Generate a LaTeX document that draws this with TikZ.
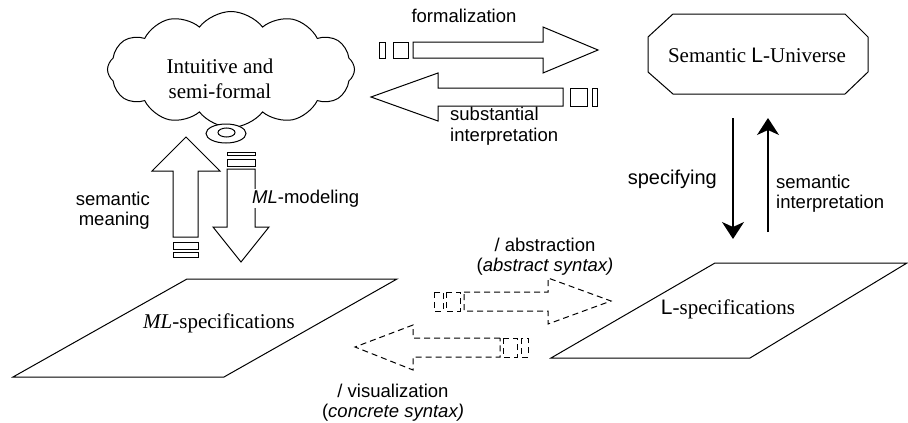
\documentclass[tikz,border=0pt]{standalone}
\usepackage{fontspec}
\setmainfont{Liberation Serif}
\newfontfamily\labelfont{Liberation Sans}
\usetikzlibrary{positioning,shapes.symbols,shapes.geometric,arrows.meta}

\tikzset{
  serif/.style={font=\fontsize{21}{25}\selectfont, inner sep=0pt},
  sanslabel/.style={font=\labelfont\fontsize{18.5}{20.5}\selectfont, inner sep=0pt},
  blockarrow/.style={draw, line width=1pt, fill=white, line join=miter},
  dashedarrow/.style={draw, line width=1pt, dash pattern=on 6pt off 4pt},
  planeedge/.style={draw, line width=1pt},
  thinarrow/.style={line width=1.6pt, -{Stealth[length=17pt,width=22pt,inset=5pt]}}
}

\begin{document}
\begin{tikzpicture}[x=1pt,y=-1pt]
      \useasboundingbox (0,0) rectangle (908,423);
      % Draw the cloud and its small bubble
      \node[cloud, draw, line width=1pt, cloud puffs=12, cloud puff arc=105, aspect=2.15,
            minimum width=247pt, minimum height=116pt, inner sep=0pt] (intuit) at (231,69.5) {};
      \node[serif, align=center, anchor=north] (intuit-txt) at (220,58.7) {Intuitive and\\semi-formal};
      \node[ellipse, draw, fill=white, line width=1pt, minimum width=40pt, minimum height=19pt, inner sep=0pt] (bubble) at (226,133.5) {};
      \node[ellipse, draw, line width=1pt, minimum width=17pt, minimum height=9pt, inner sep=0pt] (bubble-in) at (226.5,132.5) {};

      % Draw the semantic universe (octagon round its text)
      \draw[planeedge] (673,14) -- (845,14) -- (868,37) -- (868,72) -- (845,94) -- (673,94) -- (648,72) -- (648,37) -- cycle;
      \node[serif, anchor=base] (univ) at (757,62) {Semantic {\labelfont L}-Universe};

      % Draw the two specification planes
      \draw[planeedge] (13,377) -- (224,377) -- (397,279) -- (187,279) -- cycle;
      \node[serif, anchor=base] (mlspec) at (219,328) {\textit{ML}-specifications};
      \draw[planeedge] (551,358) -- (750,358) -- (907,263) -- (715,263) -- cycle;
      \node[serif, anchor=base] (lspec) at (728,314) {{\labelfont L}-specifications};

      % Formalization and substantial interpretation
      \draw[blockarrow] (379,42) rectangle (385,58);
      \draw[blockarrow] (393,42) rectangle (408,58);
      \draw[blockarrow] (413,42) -- (543,42) -- (543,27) -- (598,50) -- (543,73) -- (543,58) -- (413,58) -- cycle;
      \node[sanslabel, anchor=base] (formal-lbl) at (464,22) {formalization};
      \draw[blockarrow] (563,88) -- (438,88) -- (438,73) -- (371,97) -- (438,121) -- (438,106) -- (563,106) -- cycle;
      \draw[blockarrow] (570,88) rectangle (587,106);
      \draw[blockarrow] (592,88) rectangle (597,106);
      \node[sanslabel, align=left, anchor=north west] (subst-lbl) at (450,107) {substantial\\interpretation};

      % Semantic meaning and ML-modeling
      \draw[blockarrow] (173,237) -- (173,171) -- (152,171) -- (186,137) -- (220,171) -- (198,171) -- (198,237) -- cycle;
      \foreach \ya/\yb in {242/249, 252/257} {
        \draw[blockarrow] (173,\ya) rectangle (198,\yb);
      }
      \node[sanslabel, align=right, anchor=north east] (meaning-lbl) at (150,191.5) {semantic\\meaning};
      \foreach \ya/\yb in {152/155, 159/166} {
        \draw[blockarrow] (227,\ya) rectangle (255,\yb);
      }
      \draw[blockarrow] (227,169) -- (255,169) -- (255,227) -- (269,227) -- (241,262) -- (213,227) -- (227,227) -- cycle;
      \node[sanslabel, fill=white, inner sep=1pt, anchor=base west] (mlmod-lbl) at (251,203) {\textit{ML}-modeling};

      % Specifying and semantic interpretation
      \coordinate (spec-top) at (733,118);
      \coordinate (spec-bot) at (733,239);
      \coordinate (interp-bot) at (768,232);
      \coordinate (interp-top) at (768,118);
      \draw[thinarrow] (spec-top) -- (spec-bot);
      \draw[thinarrow] (interp-bot) -- (interp-top);
      \node[font=\labelfont\fontsize{20}{22}\selectfont, inner sep=0pt, anchor=base east] (spec-lbl) at (717,184) {specifying};
      \node[sanslabel, align=left, anchor=north west] (interp-lbl) at (776,174.5) {semantic\\interpretation};

      % Abstraction and visualization
      \draw[dashedarrow] (434,292) rectangle (443,311);
      \draw[dashedarrow] (446,292) rectangle (460,311);
      \draw[dashedarrow] (464,292) -- (548,292) -- (548,278) -- (611,301) -- (548,324) -- (548,311) -- (464,311) -- cycle;
      \node[sanslabel, align=center, anchor=north] (abstr-lbl) at (545,237.5) {/ abstraction\\(\textit{abstract syntax)}};
      \draw[dashedarrow] (500,338) -- (413,338) -- (413,325) -- (355,347) -- (413,370) -- (413,357) -- (500,357) -- cycle;
      \draw[dashedarrow] (503,338) rectangle (517,357);
      \draw[dashedarrow] (521,338) rectangle (528,357);
      \node[sanslabel, align=center, anchor=north] (visual-lbl) at (393,383.5) {/ visualization\\(\textit{concrete syntax)}};
\end{tikzpicture}
\end{document}
